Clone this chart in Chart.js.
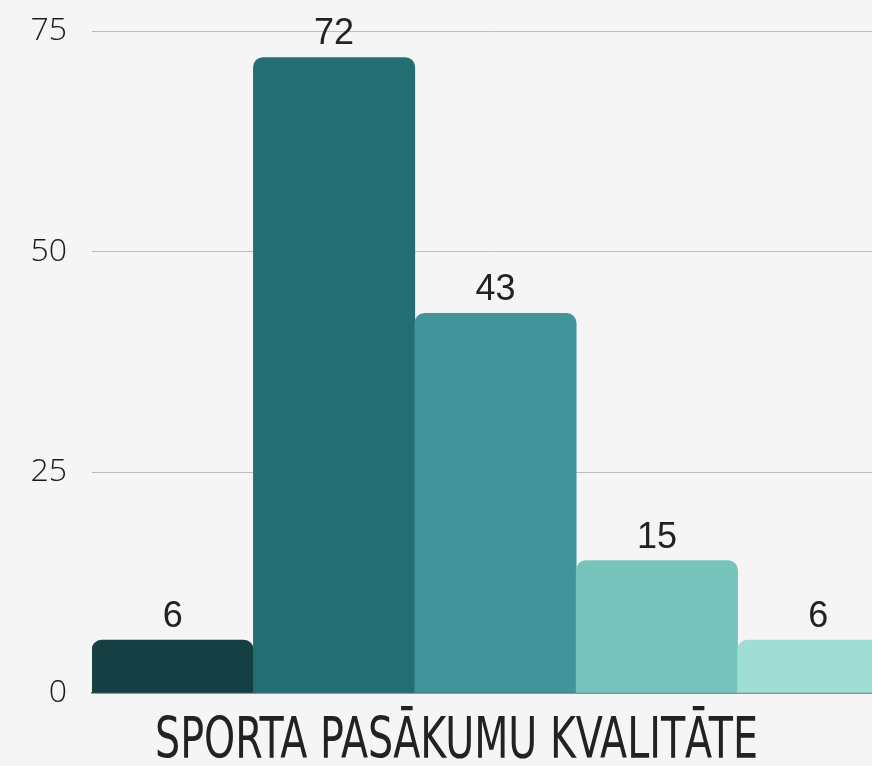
<!DOCTYPE html>
<html>
<head>
<meta charset="utf-8">
<script src="https://cdn.jsdelivr.net/npm/chart.js@4/dist/chart.umd.min.js"></script>
<style>
  html, body { margin: 0; padding: 0; background: #f5f5f5; overflow: hidden; }
  #wrap { width: 872px; height: 766px; overflow: hidden; }
  canvas { display: block; }
</style>
</head>
<body>
<div id="wrap"><canvas id="c" width="910" height="766"></canvas></div>
<script>
const categories = ["1", "2", "3", "4", "5"];
const values = [6, 72, 43, 15, 6];
const barColors = ["#153f42", "#236e72", "#41959a", "#76c4bb", "#a0ddd5"];
const yTicks = [0, 25, 50, 75];
const axisTitle = "SPORTA PASĀKUMU KVALITĀTE";

const valueLabels = {
  id: 'valueLabels',
  afterDatasetsDraw(chart) {
    const ctx = chart.ctx;
    const meta = chart.getDatasetMeta(0);
    ctx.save();
    ctx.font = '36px "Liberation Sans", Arial, sans-serif';
    ctx.fillStyle = '#222222';
    ctx.textAlign = 'center';
    ctx.textBaseline = 'alphabetic';
    meta.data.forEach((el, i) => {
      ctx.fillText(String(values[i]), el.x, el.y - 13);
    });
    ctx.restore();
  }
};

const condensedTitle = {
  id: 'condensedTitle',
  afterDraw(chart) {
    const ctx = chart.ctx;
    ctx.save();
    ctx.font = '57px "Liberation Sans Narrow", "DejaVu Sans Condensed", "Roboto", sans-serif';
    ctx.fillStyle = '#222222';
    ctx.textAlign = 'center';
    ctx.textBaseline = 'alphabetic';
    const w = ctx.measureText(axisTitle).width;
    const target = 603;
    const sx = target / w;
    const cx = 456.5;
    const baseY = chart.chartArea.bottom + 65;
    ctx.translate(cx, baseY);
    ctx.scale(sx, 1);
    ctx.fillText(axisTitle, 0, 0);
    ctx.restore();
  }
};

new Chart(document.getElementById('c'), {
  type: 'bar',
  data: {
    labels: categories,
    datasets: [{
      label: axisTitle,
      data: values,
      backgroundColor: barColors,
      borderRadius: 10,
      borderSkipped: 'start',
      barPercentage: 1,
      categoryPercentage: 1
    }]
  },
  options: {
    responsive: false,
    animation: false,
    devicePixelRatio: 1,
    layout: { padding: { top: 31, right: 11, left: 0, bottom: 0 } },
    plugins: {
      legend: { display: false },
      tooltip: { enabled: false }
    },
    scales: {
      x: {
        ticks: { display: false },
        grid: { display: false },
        border: { display: true, color: '#6b6b6b', width: 1.5 },
        afterFit(scale) { scale.height = 73; scale.paddingLeft = 0; scale.paddingRight = 0; }
      },
      y: {
        min: 0,
        max: 75,
        afterBuildTicks(scale) { scale.ticks = yTicks.map(v => ({ value: v })); },
        ticks: {
          padding: 25,
          color: '#1a1a1a',
          font: { family: '"Open Sans", sans-serif', size: 32, weight: '300' }
        },
        grid: { color: '#bdbdbd', lineWidth: 1, drawTicks: false },
        border: { display: false },
        afterFit(scale) { scale.width = 92; scale.paddingTop = 0; scale.paddingBottom = 0; }
      }
    }
  },
  plugins: [valueLabels, condensedTitle]
});
</script>
</body>
</html>
